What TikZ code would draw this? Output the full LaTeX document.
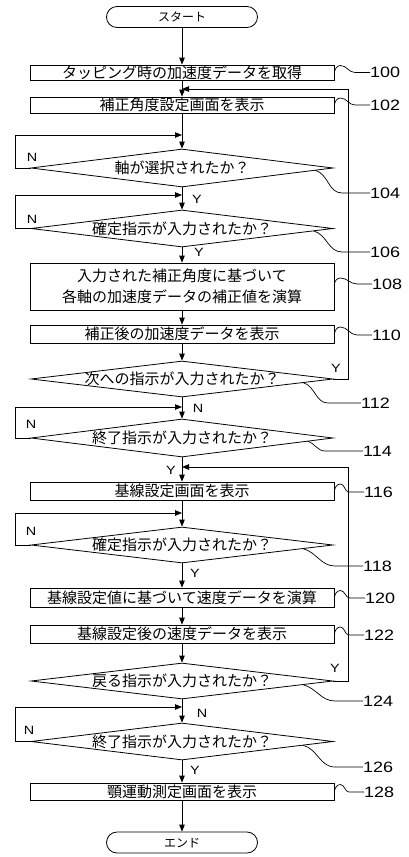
\documentclass[tikz,border=0pt]{standalone}
\usepackage{fontspec}
\setmainfont{Liberation Sans}
\newfontfamily\jpfont{Noto Sans CJK JP}
\newfontfamily\numfont[FakeStretch=1.2]{Liberation Sans}
\usetikzlibrary{arrows.meta,shapes.geometric,calc}
\tikzset{
  ln/.style={line width=0.8pt},
  arr/.style={line width=0.8pt,-{Triangle[length=7pt,width=5.5pt]}},
  lead/.style={line width=0.7pt},
  jptxt/.style={inner sep=0pt,font=\jpfont\fontsize{15}{21}\selectfont,text height=13pt,text depth=1.6pt},
  procbox/.style={draw,line width=0.8pt,minimum width=304pt,inner sep=0pt,jptxt},
  twobox/.style={draw,line width=0.8pt,minimum width=304pt,inner sep=0pt,align=center,font=\jpfont\fontsize{15}{21}\selectfont},
  dia/.style={draw,line width=0.8pt,diamond,minimum width=302pt,minimum height=37pt,inner sep=0pt},
  term/.style={draw,line width=0.8pt,rounded corners=10.5pt,minimum width=151pt,minimum height=21pt,inner sep=0pt,font=\jpfont\fontsize{12}{14}\selectfont,text height=10.5pt,text depth=1.3pt},
  refno/.style={anchor=west,inner sep=0pt,font=\numfont\fontsize{15}{18}\selectfont},
  yn/.style={inner sep=0pt,font=\numfont\fontsize{12}{14}\selectfont}
}
\begin{document}
\begin{tikzpicture}[x=1pt,y=-1pt]
\useasboundingbox (0,0) rectangle (409,857);

% terminals and boxes
\node[term] (start) at (182,17) {スタート};
\node[procbox,minimum height=15pt] (b100) at (182,72.5) {タッピング時の加速度データを取得};
\node[procbox,minimum height=16pt] (b102) at (182,105) {補正角度設定画面を表示};
\node[dia,minimum height=38pt] (d104) at (182,168) {};
\node[jptxt] (t104) at (d104.center) {軸が選択されたか？};
\node[dia] (d106) at (182,228.5) {};
\node[jptxt] (t106) at (d106.center) {確定指示が入力されたか？};
\node[twobox,minimum height=47pt] (b108) at (182,286.5) {入力された補正角度に基づいて\\各軸の加速度データの補正値を演算};
\node[procbox,minimum height=18pt] (b110) at (182,334) {補正後の加速度データを表示};
\node[dia,minimum height=36pt] (d112) at (182,379) {};
\node[jptxt] (t112) at (d112.center) {次への指示が入力されたか？};
\node[dia,minimum height=38pt] (d114) at (182,438) {};
\node[jptxt] (t114) at (d114.center) {終了指示が入力されたか？};
\node[procbox,minimum height=18pt] (b116) at (182,491) {基線設定画面を表示};
\node[dia,minimum height=36pt] (d118) at (182,545) {};
\node[jptxt] (t118) at (d118.center) {確定指示が入力されたか？};
\node[procbox,minimum height=19pt] (b120) at (182,597.5) {基線設定値に基づいて速度データを演算};
\node[procbox,minimum height=18pt] (b122) at (182,634) {基線設定後の速度データを表示};
\node[dia,minimum height=36pt] (d124) at (182,681) {};
\node[jptxt] (t124) at (d124.center) {戻る指示が入力されたか？};
\node[dia] (d126) at (182,741.5) {};
\node[jptxt] (t126) at (d126.center) {終了指示が入力されたか？};
\node[procbox,minimum height=17pt] (b128) at (182,791.5) {顎運動測定画面を表示};
\node[term] (end) at (182,842.5) {エンド};

% join points and loop columns
\coordinate (lx) at (15,0);
\coordinate (rx) at (348,0);
\coordinate (j1) at (182,89);
\coordinate (j2) at (182,135);
\coordinate (j3) at (182,195);
\coordinate (j4) at (182,407);
\coordinate (j5) at (182,467);
\coordinate (j6) at (182,513);
\coordinate (j7) at (182,707);

% main flow
\draw[arr] (start.south) -- (b100.north);
\draw[arr] (b100.south) -- (b102.north);
\draw[arr] (b102.south) -- (d104.north);
\draw[arr] (d104.south) -- (d106.north);
\draw[arr] (d106.south) -- (b108.north);
\draw[arr] (b108.south) -- (b110.north);
\draw[arr] (b110.south) -- (d112.north);
\draw[arr] (d112.south) -- (d114.north);
\draw[arr] (d114.south) -- (b116.north);
\draw[arr] (b116.south) -- (d118.north);
\draw[arr] (d118.south) -- (b120.north);
\draw[arr] (b120.south) -- (b122.north);
\draw[arr] (b122.south) -- (d124.north);
\draw[arr] (d124.south) -- (d126.north);
\draw[arr] (d126.south) -- (b128.north);
\draw[arr] (b128.south) -- (end.north);

% loops
\draw[arr] (d104.west) -- (d104.west -| lx) |- (j2);
\draw[arr] (d106.west) -- (d106.west -| lx) |- (j3);
\draw[arr] (d114.west) -- (d114.west -| lx) |- (j4);
\draw[arr] (d118.west) -- (d118.west -| lx) |- (j6);
\draw[arr] (d126.west) -- (d126.west -| lx) |- (j7);
\draw[arr] (d112.east) -- (d112.east -| rx) |- (j1);
\draw[arr] (d124.east) -- (d124.east -| rx) |- (j5);

% Y / N labels
\node[yn] (n104) at (32,157) {N};
\node[yn] (y104) at (197,199) {Y};
\node[yn] (n106) at (32,219) {N};
\node[yn] (y106) at (199,252) {Y};
\node[yn] (y112) at (336,368) {Y};
\node[yn] (n112) at (198,408) {N};
\node[yn] (n114) at (31,424) {N};
\node[yn] (y114) at (171,470) {Y};
\node[yn] (n118) at (31,531) {N};
\node[yn] (y118) at (195,573) {Y};
\node[yn] (y124) at (335,668) {Y};
\node[yn] (n124) at (202,713) {N};
\node[yn] (n126) at (29,730) {N};
\node[yn] (y126) at (195,770) {Y};

% reference numbers
\node[refno] (r100) at (370,72.5) {100};
\node[refno] (r102) at (370,105) {102};
\node[refno] (r104) at (370,193) {104};
\node[refno] (r106) at (370,252) {106};
\node[refno] (r108) at (372,284) {108};
\node[refno] (r110) at (372,335) {110};
\node[refno] (r112) at (361,403) {112};
\node[refno] (r114) at (363,451) {114};
\node[refno] (r116) at (364,492) {116};
\node[refno] (r118) at (363,566) {118};
\node[refno] (r120) at (365,598) {120};
\node[refno] (r122) at (364,635) {122};
\node[refno] (r124) at (363,701) {124};
\node[refno] (r126) at (363,767) {126};
\node[refno] (r128) at (364,792) {128};

% leaders for boxes
\foreach \b/\r in {b100/r100,b102/r102,b110/r110,b116/r116,b120/r120,b122/r122,b128/r128}{
  \draw[lead] (\b.east) to[out=80,in=180] ++(6,-7) to[out=0,in=180] ($(\r.west)+(-15,0)$) -- (\r.west);
}
\draw[lead] ($(b108.east)+(0,-2.5)$) to[out=80,in=180] ++(6,-6) to[out=0,in=180] ($(r108.west)+(-15,0)$) -- (r108.west);

% leaders for diamonds
\draw[lead] ($(d104.east)!0.12!(d104.south)$) to[out=-15,in=180] ($(r104.west)+(-28,0)$) -- (r104.west);
\draw[lead] ($(d106.east)!0.13!(d106.south)$) to[out=-15,in=180] ($(r106.west)+(-28,0)$) -- (r106.west);
\draw[lead] ($(d112.east)!0.2!(d112.south)$) to[out=-15,in=180] ($(r112.west)+(-33,0)$) -- (r112.west);
\draw[lead] ($(d114.east)!0.17!(d114.south)$) to[out=-15,in=180] ($(r114.west)+(-38,0)$) -- (r114.west);
\draw[lead] ($(d118.east)!0.2!(d118.south)$) to[out=-15,in=180] ($(r118.west)+(-28,0)$) -- (r118.west);
\draw[lead] ($(d124.east)!0.2!(d124.south)$) to[out=-15,in=180] ($(r124.west)+(-28,0)$) -- (r124.west);
\draw[lead] ($(d126.east)!0.2!(d126.south)$) to[out=-15,in=180] ($(r126.west)+(-28,0)$) -- (r126.west);
\end{tikzpicture}
\end{document}
